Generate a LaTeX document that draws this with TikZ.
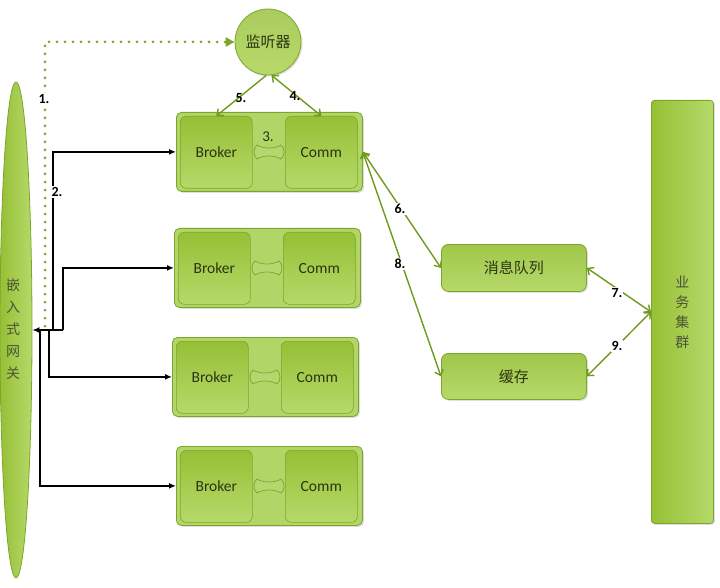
\documentclass[tikz,border=0pt]{standalone}
\usepackage{fontspec}
\setmainfont{Carlito}
\newfontfamily\cjk{Noto Sans CJK SC}
\usetikzlibrary{shapes.geometric,arrows.meta,shadows}
\definecolor{gborder}{HTML}{7DA52C}
\definecolor{gdark}{HTML}{96C035}
\definecolor{glight}{HTML}{B6D96A}
\definecolor{gouter}{HTML}{B2D567}
\definecolor{garrow}{HTML}{6E9A1E}
\definecolor{gtext}{HTML}{2B3512}
\begin{document}
\begin{tikzpicture}[x=1pt,y=-1pt,
  shad/.style={drop shadow={opacity=0.25,shadow xshift=1.5pt,shadow yshift=-1.5pt}},
  outerbox/.style={draw=gborder,line width=0.8pt,rounded corners=5pt,fill=gouter,
    minimum width=186pt,minimum height=79pt,inner sep=0pt,anchor=north west,shad},
  innerbox/.style={draw=gborder,line width=0.6pt,rounded corners=6pt,
    top color=gdark,bottom color=glight,minimum width=72pt,minimum height=72pt,
    inner sep=0pt,anchor=north west,text=gtext,font=\fontsize{15.5}{15.5}\selectfont},
  sidebox/.style={draw=gborder,line width=0.8pt,rounded corners=7pt,
    top color=gdark!90,bottom color=glight,minimum width=145pt,minimum height=47pt,
    inner sep=0pt,anchor=north west,text=gtext,font=\cjk\fontsize{15}{15}\selectfont,shad},
  garr/.style={draw=garrow,line width=1.4pt,{Straight Barb[length=5pt,width=9pt]}-{Straight Barb[length=5pt,width=9pt]}},
  garrone/.style={draw=garrow,line width=1.4pt,-{Straight Barb[length=5pt,width=9pt]}},
  barr/.style={draw=black,line width=1.5pt,-{Latex[length=7pt,width=6pt]}},
  lbl/.style={font=\bfseries\fontsize{14}{14}\selectfont,text=black,inner sep=1pt},
  lblw/.style={lbl,fill=white}
]
\useasboundingbox (0,0) rectangle (720,588);

% gateway ellipse
\node[ellipse,draw=gborder,line width=0.8pt,left color=gdark,right color=glight,
  minimum width=32pt,minimum height=496pt,inner sep=0pt] (gw) at (16,330) {};
\node[font=\cjk\fontsize{14}{22}\selectfont,align=center,text=gtext!85] (gwt) at (13,329)
  {嵌\\入\\式\\网\\关};

% listener circle
\node[circle,draw=gborder,line width=0.8pt,top color=gdark!80,bottom color=glight,
  minimum size=66pt,inner sep=0pt,font=\cjk\fontsize{15}{15}\selectfont,text=gtext,shad]
  (lis) at (268,42) {监听器};

% groups
\foreach \i/\x/\y in {1/176/112,2/174/228,3/172/337,4/176/446}{
  \node[outerbox] (g\i) at (\x,\y) {};
  \node[innerbox] (b\i) at (\x+4,\y+4) {Broker};
  \node[innerbox] (c\i) at (\x+109,\y+4) {Comm};
  \begin{scope}[shift={(\x+93,\y+40)}]
    \draw[draw=gborder,line width=0.7pt,top color=gdark!70,bottom color=glight]
      (-12,-7) .. controls (-6,-3) and (6,-3) .. (12,-7)
      .. controls (16,-4) and (16,4) .. (12,7)
      .. controls (6,3) and (-6,3) .. (-12,7)
      .. controls (-16,4) and (-16,-4) .. (-12,-7) -- cycle;
  \end{scope}
}
\node[font=\fontsize{15}{15}\selectfont,text=gtext] (l3) at (268,137) {3.};

% message queue, cache, cluster
\node[sidebox] (mq) at (441,244) {消息队列};
\node[sidebox,minimum height=46pt] (ca) at (441,353) {缓存};
\node[draw=gborder,line width=0.8pt,rounded corners=3pt,left color=gdark,right color=glight,
  minimum width=62pt,minimum height=423pt,inner sep=0pt,anchor=north west,shad,
  font=\cjk\fontsize{14}{20}\selectfont,align=center,text=gtext!85] (cl) at (651,100)
  {业\\务\\集\\群};

% black arrows from gateway
\coordinate (k1) at (53,330);
\coordinate (k2) at (63,330);
\coordinate (k3) at (49,330);
\coordinate (k4) at (40,330);
\draw[barr] (k2) -- (gw.east);
\draw[barr] (k1) |- (g1.west);
\draw[barr] (k2) |- (g2.west);
\draw[barr] (k3) |- (g3.west);
\draw[barr] (k4) |- (g4.west);
\node[lblw] (l2) at (57,192) {2.};

% dotted line 1
\coordinate (d0) at (45,326);
\draw[draw=gborder,line width=3pt,line cap=round,dash pattern=on 0pt off 8pt,
  -{Triangle[length=9pt,width=9pt,line cap=butt]}] (d0) |- (lis.west);
\node[lblw] (l1) at (44,99) {1.};

% listener arrows
\draw[garrone] (lis.-93) -- (b1.north);
\draw[garr] (lis.-84) -- (c1.north);
\node[lbl] (l5) at (241,98) {5.};
\node[lbl] (l4) at (295,96) {4.};

% comm to mq / cache
\draw[garr] (g1.east) -- (mq.west);
\draw[garr] (g1.east) -- (ca.west);
\node[lblw] (l6) at (400,209) {6.};
\node[lblw] (l8) at (400,264) {8.};

% cluster to mq / cache
\draw[garr] (cl.west) -- (mq.east);
\draw[garr] (cl.west) -- (ca.east);
\node[lblw] (l7) at (617,293) {7.};
\node[lblw] (l9) at (617,346) {9.};
\end{tikzpicture}
\end{document}
